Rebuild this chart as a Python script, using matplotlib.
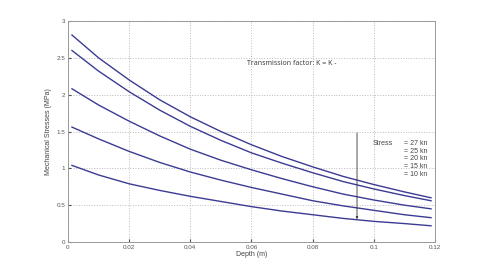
import matplotlib.pyplot as plt

depth = [0.0013, 0.01, 0.02, 0.03, 0.04, 0.05, 0.06, 0.07, 0.08, 0.09, 0.1, 0.11, 0.1187]
s27 = [2.81, 2.50, 2.20, 1.93, 1.70, 1.50, 1.32, 1.16, 1.02, 0.89, 0.78, 0.68, 0.60]
s25 = [2.60, 2.32, 2.04, 1.79, 1.57, 1.38, 1.21, 1.07, 0.94, 0.82, 0.72, 0.63, 0.56]
s20 = [2.08, 1.86, 1.64, 1.44, 1.26, 1.11, 0.98, 0.86, 0.75, 0.65, 0.57, 0.50, 0.45]
s15 = [1.56, 1.40, 1.23, 1.08, 0.95, 0.84, 0.74, 0.65, 0.56, 0.49, 0.43, 0.37, 0.33]
s10 = [1.04, 0.91, 0.79, 0.70, 0.62, 0.55, 0.48, 0.42, 0.37, 0.32, 0.28, 0.25, 0.22]
loads = ['27', '25', '20', '15', '10']

plt.rcParams['font.family'] = ['Liberation Sans', 'DejaVu Sans']

fig = plt.figure(figsize=(4.98, 2.73), dpi=100)
ax = fig.add_axes([0.1365, 0.1136, 0.737, 0.8094])

for s in [s27, s25, s20, s15, s10]:
    ax.plot(depth, s, color='#3b3b93', lw=1.0)

ax.set_xlim(0, 0.12)
ax.set_ylim(0, 3)
ax.set_xticks([0, 0.02, 0.04, 0.06, 0.08, 0.1, 0.12])
ax.set_xticklabels(['0', '0.02', '0.04', '0.06', '0.08', '0.1', '0.12'])
ax.set_yticks([0, 0.5, 1, 1.5, 2, 2.5, 3])
ax.set_yticklabels(['0', '0.5', '1', '1.5', '2', '2.5', '3'])
ax.grid(True, color='#bbbbbb', linestyle=':', linewidth=0.7)
ax.tick_params(direction='in', length=2, labelsize=4.5, colors='#555555', pad=2)
for sp in ax.spines.values():
    sp.set_color('#999999')
    sp.set_linewidth(0.7)

ax.set_xlabel('Depth (m)', fontsize=5, color='#444444', labelpad=1)
ax.set_ylabel('Mechanical Stresses (MPa)', fontsize=5, color='#444444', labelpad=3)

ax.text(0.0585, 2.43, 'Transmission factor: K = K -', fontsize=5,
        family=['Open Sans', 'DejaVu Sans'], color='#333333', va='center')

ax.annotate('', xy=(0.0945, 0.31), xytext=(0.0945, 1.48),
            arrowprops=dict(arrowstyle='-|>', color='#333333', lw=0.6,
                            mutation_scale=3, shrinkA=0, shrinkB=0))

ax.text(0.0995, 1.34, 'Stress', fontsize=5, color='#444444', va='center')
for i, k in enumerate(loads):
    ax.text(0.1098, 1.34 - i * 0.105, '= %s kn' % k, fontsize=5,
            color='#444444', va='center')

fig.savefig('out.png', dpi=100)
